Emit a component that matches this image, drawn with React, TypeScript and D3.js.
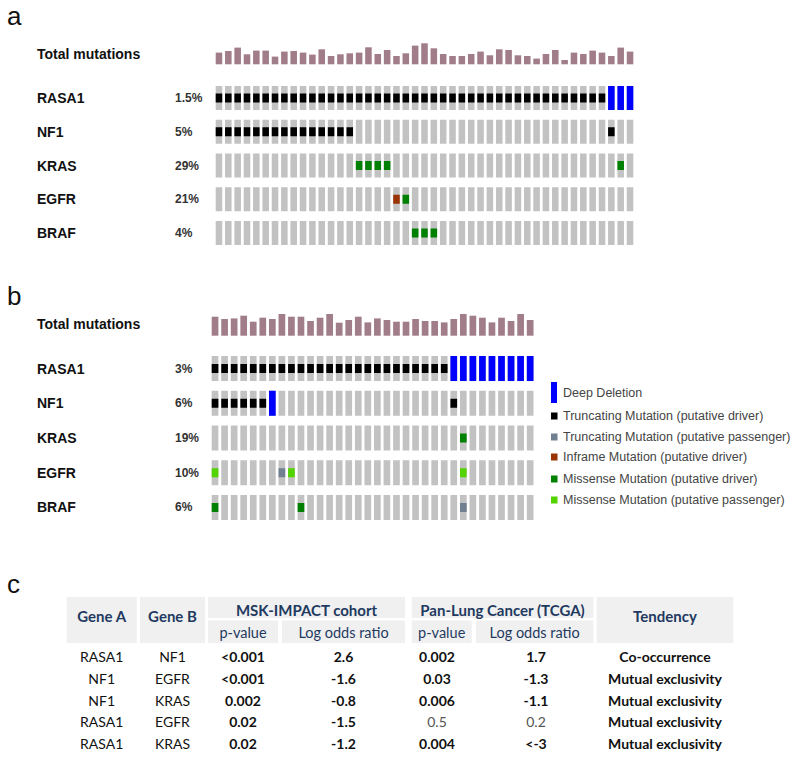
import React from 'react';
import * as d3 from 'd3';

// ---------- DATA ----------
const genes = ['RASA1', 'NF1', 'KRAS', 'EGFR', 'BRAF'];
const pctA = ['1.5%', '5%', '29%', '21%', '4%'];
const pctB = ['3%', '6%', '19%', '10%', '6%'];

// Total mutations per sample (relative heights)
const totalA = [11.7, 13.3, 16.7, 10, 13.7, 13.7, 7.7, 12.7, 13.3, 11.7, 9.7, 15, 8.3, 10, 11, 11.7, 17, 10.3, 14.3, 8.3, 11, 18.7,
  21, 16, 10.3, 8.3, 8.3, 10.3, 12.7, 9, 15, 14.3, 9, 8.3, 5.7, 10.3, 14.3, 4.3, 11.7, 10.3, 13.7, 11.7, 8.3, 16.7, 12.7];
const totalB = [19, 16.7, 17.3, 20, 14, 18, 16.7, 21.7, 19, 19, 14.7, 18, 21.7, 13, 15.7, 19, 13.3, 17.3, 15.7, 14, 14, 16.7,
  14.7, 14.7, 13.3, 16.7, 21.7, 20, 18, 13.3, 18, 14.7, 21.7, 15.7];

// Alterations as runs: [gene, firstSample, lastSample, type]
type Run = [string, number, number, string];
const altA: Run[] = [
  ['RASA1', 0, 41, 'TRUNC'], ['RASA1', 42, 44, 'DEL'],
  ['NF1', 0, 14, 'TRUNC'], ['NF1', 42, 42, 'TRUNC'],
  ['KRAS', 15, 18, 'MISS'], ['KRAS', 43, 43, 'MISS'],
  ['EGFR', 19, 19, 'INFRAME'], ['EGFR', 20, 20, 'MISS'],
  ['BRAF', 21, 23, 'MISS'],
];
const altB: Run[] = [
  ['RASA1', 0, 24, 'TRUNC'], ['RASA1', 25, 33, 'DEL'],
  ['NF1', 0, 5, 'TRUNC'], ['NF1', 6, 6, 'DEL'], ['NF1', 25, 25, 'TRUNC'],
  ['KRAS', 26, 26, 'MISS'],
  ['EGFR', 0, 0, 'MISS_P'], ['EGFR', 7, 7, 'TRUNC_P'], ['EGFR', 8, 8, 'MISS_P'], ['EGFR', 26, 26, 'MISS_P'],
  ['BRAF', 0, 0, 'MISS'], ['BRAF', 9, 9, 'MISS'], ['BRAF', 26, 26, 'TRUNC_P'],
];

const legendTypes = ['DEL', 'TRUNC', 'TRUNC_P', 'INFRAME', 'MISS', 'MISS_P'];
const legendLabels = [
  'Deep Deletion',
  'Truncating Mutation (putative driver)',
  'Truncating Mutation (putative passenger)',
  'Inframe Mutation (putative driver)',
  'Missense Mutation (putative driver)',
  'Missense Mutation (putative passenger)',
];

// Table
const geneA = ['RASA1', 'NF1', 'NF1', 'RASA1', 'RASA1'];
const geneB = ['NF1', 'EGFR', 'KRAS', 'EGFR', 'KRAS'];
const mskP = ['<0.001', '<0.001', '0.002', '0.02', '0.02'];
const mskLor = ['2.6', '-1.6', '-0.8', '-1.5', '-1.2'];
const tcgaP = ['0.002', '0.03', '0.006', '0.5', '0.004'];
const tcgaLor = ['1.7', '-1.3', '-1.1', '0.2', '<-3'];
const tcgaSig = [true, true, true, false, true];
const tendency = ['Co-occurrence', 'Mutual exclusivity', 'Mutual exclusivity', 'Mutual exclusivity', 'Mutual exclusivity'];

// ---------- STYLE ----------
const colors: Record<string, string> = {
  DEL: '#0000ff',
  TRUNC: '#000000',
  TRUNC_P: '#708090',
  INFRAME: '#993404',
  MISS: '#008000',
  MISS_P: '#53d400',
};
const GRAY = '#c2c2c2';
const MAUVE = '#a07d89';
const OFONT = '"Liberation Sans", Arial, sans-serif';
const TFONT = 'Lato, "Open Sans", sans-serif';
const HEAD = '#1f3a60';

type PanelProps = {
  totals: number[];
  alts: Run[];
  pcts: string[];
  x0: number; x1: number;
  baseY: number; totalLabelY: number;
  rowTop: number; rowBottom: number; rowPad: number;
};

function Oncoprint(p: PanelProps) {
  const n = p.totals.length;
  const x = d3.scaleBand<number>().domain(d3.range(n)).range([p.x0, p.x1]).paddingInner(0.3).paddingOuter(0);
  const y = d3.scaleBand<string>().domain(genes).range([p.rowTop, p.rowBottom]).paddingInner(p.rowPad).paddingOuter(0);
  const h = d3.scaleLinear().domain([0, 22]).range([0, 22]);
  const rh = y.bandwidth();
  const mh = 9;
  const cells: JSX.Element[] = [];
  genes.forEach((g) => {
    d3.range(n).forEach((i) => {
      cells.push(<rect key={`${g}-${i}`} x={x(i)} y={y(g)} width={x.bandwidth()} height={rh} fill={GRAY} />);
    });
  });
  const marks: JSX.Element[] = [];
  p.alts.forEach(([g, s, e, t], k) => {
    d3.range(s, e + 1).forEach((i) => {
      if (t === 'DEL') {
        marks.push(<rect key={`a${k}-${i}`} x={x(i)} y={y(g)} width={x.bandwidth()} height={rh} fill={colors[t]} />);
      } else {
        marks.push(<rect key={`a${k}-${i}`} x={x(i)} y={(y(g) as number) + rh / 2 - mh / 2} width={x.bandwidth()} height={mh} fill={colors[t]} />);
      }
    });
  });
  return (
    <g>
      <text x={37} y={p.totalLabelY} fontFamily={OFONT} fontWeight="bold" fontSize={14} fill="#111" dominantBaseline="central">Total mutations</text>
      {p.totals.map((v, i) => (
        <rect key={`t${i}`} x={x(i)} y={p.baseY - h(v)} width={x.bandwidth()} height={h(v)} fill={MAUVE} />
      ))}
      {genes.map((g, gi) => (
        <g key={g}>
          <text x={37} y={(y(g) as number) + rh / 2} fontFamily={OFONT} fontWeight="bold" fontSize={14} fill="#111" dominantBaseline="central">{g}</text>
          <text x={175} y={(y(g) as number) + rh / 2} fontFamily={OFONT} fontWeight="bold" fontSize={12} fill="#333" dominantBaseline="central">{p.pcts[gi]}</text>
        </g>
      ))}
      {cells}
      {marks}
    </g>
  );
}

function Legend() {
  const ys = [393, 416, 437, 457, 479, 500];
  return (
    <g>
      {legendTypes.map((t, i) => (
        <g key={t}>
          {t === 'DEL'
            ? <rect x={551} y={382} width={6} height={21} fill={colors[t]} />
            : <rect x={551} y={ys[i] - 3.5} width={6.5} height={7} fill={colors[t]} />}
          <text x={563} y={ys[i]} fontFamily={OFONT} fontSize={12.5} fill="#444" dominantBaseline="central">{legendLabels[i]}</text>
        </g>
      ))}
    </g>
  );
}

function Table() {
  const rows = d3.scaleLinear().domain([0, 4]).range([656.7, 743.3]);
  const hdrs = [
    { x0: 66.7, x1: 136.7, y0: 597, y1: 643, label: 'Gene A', bold: true, cy: 616 },
    { x0: 140, x1: 205, y0: 597, y1: 643, label: 'Gene B', bold: true, cy: 616 },
    { x0: 208, x1: 405, y0: 597, y1: 618, label: 'MSK-IMPACT cohort', bold: true, cy: 610 },
    { x0: 208, x1: 278, y0: 620.5, y1: 643, label: 'p-value', bold: false, cy: 632 },
    { x0: 282, x1: 405, y0: 620.5, y1: 643, label: 'Log odds ratio', bold: false, cy: 632 },
    { x0: 411.7, x1: 593.3, y0: 597, y1: 618, label: 'Pan-Lung Cancer (TCGA)', bold: true, cy: 610 },
    { x0: 411.7, x1: 471.7, y0: 620.5, y1: 643, label: 'p-value', bold: false, cy: 632 },
    { x0: 476, x1: 593.3, y0: 620.5, y1: 643, label: 'Log odds ratio', bold: false, cy: 632 },
    { x0: 596.7, x1: 733.3, y0: 597, y1: 643, label: 'Tendency', bold: true, cy: 616 },
  ];
  const cx = [101.7, 172.5, 243, 343.5, 437, 536, 665];
  const cols: { vals: string[]; bold: (i: number) => boolean }[] = [
    { vals: geneA, bold: () => false },
    { vals: geneB, bold: () => false },
    { vals: mskP, bold: () => true },
    { vals: mskLor, bold: () => true },
    { vals: tcgaP, bold: (i) => tcgaSig[i] },
    { vals: tcgaLor, bold: (i) => tcgaSig[i] },
    { vals: tendency, bold: () => true },
  ];
  return (
    <g>
      {hdrs.map((h, i) => (
        <g key={i}>
          <rect x={h.x0} y={h.y0} width={h.x1 - h.x0} height={h.y1 - h.y0} fill="#f0f0f0" />
          <text x={(h.x0 + h.x1) / 2} y={h.cy} textAnchor="middle" dominantBaseline="central" fontFamily={TFONT}
            fontWeight={h.bold ? 'bold' : 'normal'} fontSize={h.bold ? 15 : 14.5} fill={HEAD}>{h.label}</text>
        </g>
      ))}
      {cols.map((c, ci) => c.vals.map((v, ri) => (
        <text key={`${ci}-${ri}`} x={cx[ci]} y={rows(ri)} textAnchor="middle" dominantBaseline="central" fontFamily={TFONT}
          fontWeight={c.bold(ri) ? 'bold' : 'normal'} fontSize={14} fill={c.bold(ri) || ci < 2 ? '#111' : '#555'}>{v}</text>
      )))}
    </g>
  );
}

export default function App() {
  return (
    <div style={{ position: 'absolute', left: 0, top: 0 }}>
      <svg width={800} height={763} style={{ display: 'block', background: '#fff' }}>
        <text x={7} y={25} fontFamily={OFONT} fontSize={26} fill="#111">a</text>
        <text x={7} y={305} fontFamily={OFONT} fontSize={26} fill="#111">b</text>
        <text x={7} y={593} fontFamily={OFONT} fontSize={26} fill="#111">c</text>
        <Oncoprint totals={totalA} alts={altA} pcts={pctA} x0={215.7} x1={633.3} baseY={64.3} totalLabelY={53.5}
          rowTop={86} rowBottom={245} rowPad={0.289} />
        <Oncoprint totals={totalB} alts={altB} pcts={pctB} x0={211.7} x1={533.5} baseY={335.7} totalLabelY={323.5}
          rowTop={356} rowBottom={520} rowPad={0.28} />
        <Legend />
        <Table />
      </svg>
    </div>
  );
}
